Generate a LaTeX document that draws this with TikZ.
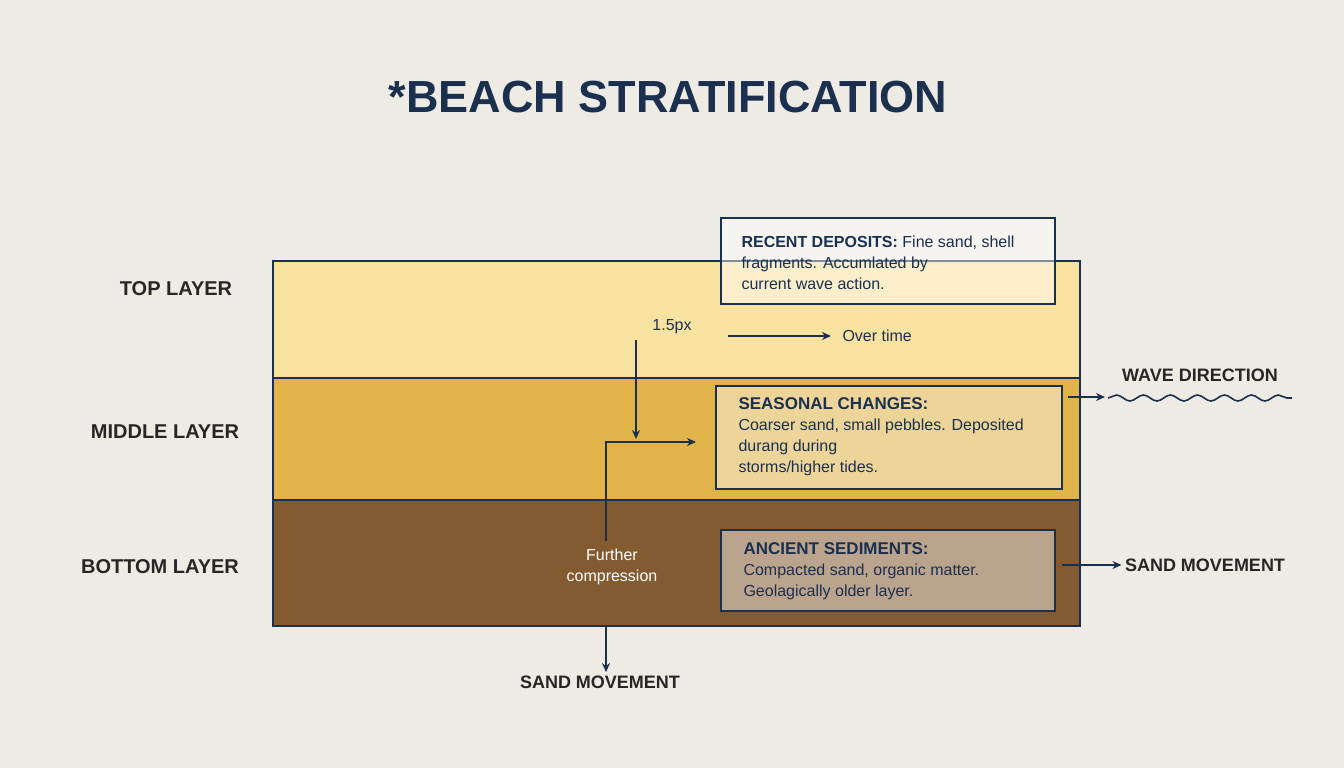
\documentclass[tikz,border=0pt]{standalone}
\usepackage{fontspec}
\setmainfont{Liberation Sans}
\usetikzlibrary{arrows.meta}
\usetikzlibrary{positioning}
\usetikzlibrary{decorations.pathmorphing}
\definecolor{navy}{HTML}{1B2F4F}
\definecolor{paper}{HTML}{EEEBE4}
\definecolor{sandtop}{HTML}{F7E2A0}
\definecolor{sandmid}{HTML}{E0B448}
\definecolor{sandbot}{HTML}{845A30}
\tikzset{
    layer/.style={draw=navy,line width=2pt},
    sidelabel/.style={font=\fontsize{20}{24}\selectfont\bfseries,text=black!85},
    infobox/.style={draw=navy,line width=1.2pt,fill=white,fill opacity=0.45,text opacity=1,anchor=north west,inner sep=0pt},
    conn/.style={draw=navy,line width=1.6pt,-{Stealth[length=9pt,width=8pt]}},
}
\begin{document}
\begin{tikzpicture}[x=1pt,y=-1pt]
\fill[paper] (0,0) rectangle (1344,768);
\useasboundingbox (0,0) rectangle (1344,768);

% Title
\node[font=\fontsize{45}{50}\selectfont\bfseries,text=navy] (title) at (668,97) {*BEACH STRATIFICATION};

% Layers
\fill[sandtop] (273,261) rectangle (1080,378);
\fill[sandmid] (273,378) rectangle (1080,500);
\fill[sandbot] (273,500) rectangle (1080,626);
\draw[layer] (273,261) rectangle (1080,626);
\draw[layer] (273,378) -- (1080,378);
\draw[layer] (273,500) -- (1080,500);

% Side labels
\node[sidelabel] (top) at (176,289) {TOP LAYER};
\node[sidelabel] (middle) at (165,432) {MIDDLE LAYER};
\node[sidelabel] (bottom) at (160,567) {BOTTOM LAYER};

% Info boxes
\draw[infobox] (721,218) rectangle (1055,304);
\node[anchor=north west,align=left,font=\fontsize{16}{21}\selectfont,text=navy] (recent) at (738,232)
    {{\bfseries RECENT DEPOSITS:} Fine sand, shell\\fragments. Accumlated by\\current wave action.};
\draw[infobox] (716,386) rectangle (1062,489);
\node[anchor=north west,align=left,font=\fontsize{16}{21}\selectfont,text=navy] (seasonal) at (735,394)
    {{\bfseries\fontsize{17}{21}\selectfont SEASONAL CHANGES:}\\Coarser sand, small pebbles. Deposited\\durang during\\storms/higher tides.};
\draw[infobox] (721,530) rectangle (1055,611);
\node[anchor=north west,align=left,font=\fontsize{16}{21}\selectfont,text=navy] (ancient) at (740,539)
    {{\bfseries\fontsize{17}{21}\selectfont ANCIENT SEDIMENTS:}\\Compacted sand, organic matter.\\ Geolagically older layer.};

% Arrows and notes
\node[font=\fontsize{16}{20}\selectfont,text=navy] (px) at (672,327) {1.5px};
\coordinate (pxa) at (636,340);
\coordinate (pxb) at (636,439);
\draw[conn] (pxa) -- (pxb);
\coordinate (ota) at (728,336);
\coordinate (otb) at (831,336);
\draw[conn] (ota) -- (otb);
\node[anchor=west,font=\fontsize{16}{20}\selectfont,text=navy] (overtime) at (839,336) {Over time};

\node[align=center,font=\fontsize{16}{21}\selectfont,text=white] (further) at (612,567) {Further\\compression};
\coordinate (fca) at (606,541);
\coordinate (fcb) at (696,442);
\draw[conn] (fca) |- (fcb);

\node[font=\fontsize{18}{22}\selectfont\bfseries,text=black!85] (sandbelow) at (600,682) {SAND MOVEMENT};
\coordinate (sba) at (606,626);
\draw[conn] (sba) -- (sandbelow.north -| sba);

\node[font=\fontsize{18}{22}\selectfont\bfseries,text=black!85] (wave) at (1200,375) {WAVE DIRECTION};
\coordinate (wva) at (1068,397);
\coordinate (wvb) at (1105,397);
\draw[conn] (wva) -- (wvb);
\draw[navy,line width=1.6pt,decorate,decoration={snake,amplitude=3pt,segment length=27pt}] (1108,398) -- (1292,398);

\node[font=\fontsize{18}{22}\selectfont\bfseries,text=black!85] (sandright) at (1205,565) {SAND MOVEMENT};
\coordinate (sra) at (1062,565);
\draw[conn] (sra) -- (sandright.west);
\end{tikzpicture}
\end{document}
